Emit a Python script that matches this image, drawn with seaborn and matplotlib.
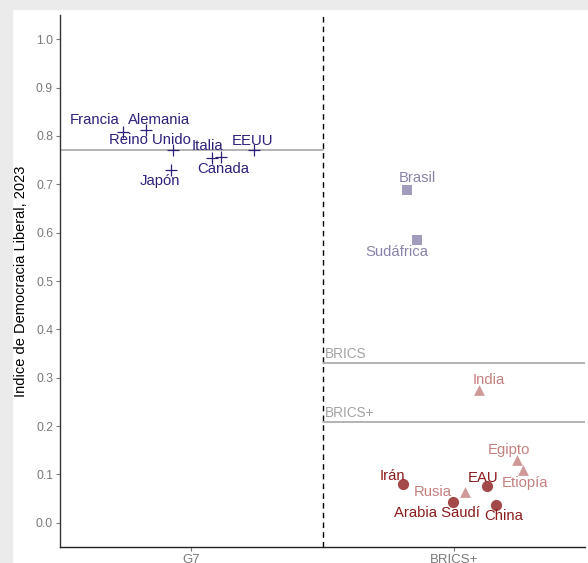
import matplotlib.pyplot as plt
import pandas as pd
import seaborn as sns
from matplotlib.patches import Rectangle

# Liberal democracy index 2023
paises = [
    "Francia", "Alemania", "Reino Unido", "Japón", "Italia", "Canada", "EEUU",
    "Brasil", "Sudáfrica", "India", "Egipto", "Etiopía", "Rusia",
    "Irán", "EAU", "Arabia Saudí", "China",
]
bloque = ["G7"] * 7 + ["BRICS+"] * 10
tipo = (["g7"] * 7 + ["democracia"] * 2 + ["autocracia electoral"] * 4
        + ["autocracia cerrada"] * 4)
brics_original = ["Brasil", "Rusia", "India", "China", "Sudáfrica"]
indice = [
    0.808, 0.812, 0.771, 0.729, 0.754, 0.756, 0.771,
    0.689, 0.584, 0.275, 0.130, 0.110, 0.064,
    0.081, 0.076, 0.044, 0.036,
]
# horizontal jitter inside each category, as drawn
jitter = [
    -0.26, -0.174, -0.07, -0.076, 0.08, 0.114, 0.24,
    -0.178, -0.14, 0.096, 0.242, 0.265, 0.043,
    -0.195, 0.128, -0.001, 0.162,
]
categorias = ["G7", "BRICS+"]

colores = {
    "g7": "#30207a",
    "democracia": "#8a84aa",
    "autocracia electoral": "#c4807f",
    "autocracia cerrada": "#8c1c1c",
}
marcadores = {
    "g7": "+",
    "democracia": "s",
    "autocracia electoral": "^",
    "autocracia cerrada": "o",
}
tamanos = {"g7": 80, "democracia": 55, "autocracia electoral": 60, "autocracia cerrada": 65}

# label offsets in pixels (dx, dy up) from the point to the text centre
etiquetas = {
    "Francia": (-28, 12), "Alemania": (13, 10), "Reino Unido": (-23, 10),
    "Japón": (-11, -11), "Italia": (-5, 12), "Canada": (2, -12), "EEUU": (-2, 9),
    "Brasil": (10, 12), "Sudáfrica": (-20, -12), "India": (10, 10),
    "Egipto": (-8, 10), "Etiopía": (2, -13), "Rusia": (-32, 0),
    "Irán": (-10, 8), "EAU": (-4, 8), "Arabia Saudí": (-17, -11), "China": (7, -11),
}

df = pd.DataFrame({"pais": paises, "bloque": bloque, "tipo": tipo,
                   "indice": indice, "jitter": jitter})
df["x"] = df["bloque"].map({c: i + 1 for i, c in enumerate(categorias)}) + df["jitter"]

sns.set_theme(style="white")
plt.rcParams["font.family"] = ["Liberation Sans", "DejaVu Sans"]

fig = plt.figure(figsize=(5.88, 5.63), dpi=100)
fig.patches.append(Rectangle((0, 1 - 9 / 563), 1, 9 / 563, transform=fig.transFigure,
                             color="#ebebeb", zorder=-5))
fig.patches.append(Rectangle((0, 0), 12 / 588, 1, transform=fig.transFigure,
                             color="#ebebeb", zorder=-5))
ax = fig.add_axes([60 / 588, 1 - 547 / 563, 525 / 588, 532 / 563])

for t, grupo in df.groupby("tipo", sort=False):
    if t == "g7":
        sns.scatterplot(data=grupo, x="x", y="indice", marker="+", color=colores[t],
                        s=tamanos[t], linewidth=0.9, ax=ax, legend=False, zorder=3)
    else:
        sns.scatterplot(data=grupo, x="x", y="indice", marker=marcadores[t],
                        color=colores[t], s=tamanos[t], alpha=0.8, linewidth=0,
                        ax=ax, legend=False, zorder=3)

for _, r in df.iterrows():
    dx, dy = etiquetas[r["pais"]]
    ax.annotate(r["pais"], (r["x"], r["indice"]), xytext=(dx * 0.72, dy * 0.72),
                textcoords="offset points", ha="center", va="center",
                fontsize=10.7, color=colores[r["tipo"]], zorder=4)

# group means
media_g7 = df.loc[df["bloque"] == "G7", "indice"].mean()
media_bricsp = df.loc[df["bloque"] == "BRICS+", "indice"].mean()
media_brics = df.loc[df["pais"].isin(brics_original), "indice"].mean()
ax.plot([0.5, 1.5], [media_g7] * 2, color="#b3b3b3", lw=1.4, zorder=2)
for nombre, m in [("BRICS", media_brics), ("BRICS+", media_bricsp)]:
    ax.plot([1.5, 2.5], [m] * 2, color="#b3b3b3", lw=1.4, zorder=2)
    ax.text(1.51, m + 0.004, nombre, ha="left", va="bottom", fontsize=9.8,
            color="#a3a3a3")
ax.axvline(1.5, color="black", lw=1, ls=(0, (4, 3)), zorder=1)

ax.set_xlim(0.5, 2.5)
ax.set_ylim(-0.05, 1.05)
ax.set_xticks([1, 2], categorias)
ax.set_yticks([i / 10 for i in range(11)])
ax.set_yticklabels([f"{i / 10:.1f}" for i in range(11)])
ax.set_xlabel("")
ax.set_ylabel("Indice de Democracia Liberal, 2023", fontsize=10.5, color="black", labelpad=6)
ax.tick_params(axis="both", length=3, width=0.8, color="#7a7a7a", labelcolor="#7a7a7a",
               labelsize=8.8, pad=2, left=True, bottom=True)
ax.tick_params(axis="x", labelsize=9.5)
sns.despine(ax=ax)
ax.spines["left"].set_color("#333333")
ax.spines["bottom"].set_color("#222222")
ax.spines["left"].set_linewidth(1)
ax.spines["bottom"].set_linewidth(1)

fig.savefig("out.png", dpi=100)
